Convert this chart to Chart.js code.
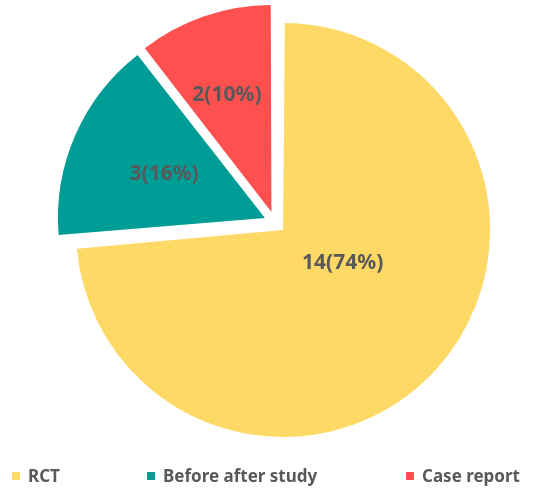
<!DOCTYPE html>
<html>
<head>
<meta charset="utf-8">
<script src="https://cdn.jsdelivr.net/npm/chart.js@4"></script>
<style>
  html, body { margin: 0; padding: 0; background: #fff; }
  #wrap { position: relative; width: 544px; height: 490px; }
  #chart { position: absolute; left: 0; top: 0; }
  .legend-item {
    position: absolute;
    top: 464px;
    display: flex;
    align-items: center;
    font-family: "Noto Sans", sans-serif;
    font-weight: bold;
    font-size: 17px;
    color: #595959;
    white-space: nowrap;
  }
  .legend-item span.box {
    display: inline-block;
    width: 8px;
    height: 8px;
    margin-right: 8px;
  }
</style>
</head>
<body>
<div id="wrap">
  <canvas id="chart" width="544" height="490"></canvas>
</div>
<script>
// Chart data
const categories = ["RCT", "Before after study", "Case report"];
const counts = [14, 3, 2];
const percents = [74, 16, 10];
const colors = ["#FFD966", "#009C96", "#FF5050"];

const PIE_RADIUS = 207;
const SHIFT = 11; // px each slice is pulled out
// label placement (fraction of radius, angle nudge in degrees)
const labelRadius = [0.38, 0.585, 0.656];
const labelNudge = [-12, 0, -1.8];
const legendLeft = [12, 147, 406];

/**
 * Chart.js grows the radius of an offset arc; undo that so all
 * slices keep the same radius
 */
const sameRadius = {
  id: "sameRadius",
  beforeDatasetsDraw(chart) {
    chart.getDatasetMeta(0).data.forEach((arc) => {
      const c = arc.endAngle - arc.startAngle;
      const fix = 1 - Math.sin(Math.min(Math.PI, c));
      arc.outerRadius = PIE_RADIUS - SHIFT * fix;
    });
  },
};

/**
 * Draw "n(p%)" inside each slice
 */
const sliceLabels = {
  id: "sliceLabels",
  afterDatasetsDraw(chart) {
    const ctx = chart.ctx;
    const arcs = chart.getDatasetMeta(0).data;
    ctx.save();
    ctx.font = "bold 21px 'Noto Sans', sans-serif";
    ctx.fillStyle = "#595959";
    ctx.textAlign = "center";
    ctx.textBaseline = "middle";
    arcs.forEach((arc, i) => {
      const mid =
        (arc.startAngle + arc.endAngle) / 2 + (labelNudge[i] * Math.PI) / 180;
      const r = PIE_RADIUS * labelRadius[i];
      ctx.fillText(
        `${counts[i]}(${percents[i]}%)`,
        arc.x + Math.cos(mid) * r,
        arc.y + Math.sin(mid) * r
      );
    });
    ctx.restore();
  },
};

const ctx = document.getElementById("chart").getContext("2d");

new Chart(ctx, {
  type: "pie",
  data: {
    labels: categories,
    datasets: [
      {
        data: counts,
        backgroundColor: colors,
        borderWidth: 0,
        // arc draws offset / 4 px of shift
        offset: SHIFT * 4,
      },
    ],
  },
  options: {
    responsive: false,
    animation: false,
    radius: PIE_RADIUS,
    layout: {
      padding: { top: 9, left: 6, right: 0, bottom: 54 },
    },
    plugins: {
      legend: { display: false },
      tooltip: { enabled: false },
    },
  },
  plugins: [sameRadius, sliceLabels],
});

// Legend below the pie
const wrap = document.getElementById("wrap");
categories.forEach((name, i) => {
  const item = document.createElement("div");
  item.className = "legend-item";
  item.style.left = legendLeft[i] + "px";
  const box = document.createElement("span");
  box.className = "box";
  box.style.background = colors[i];
  item.appendChild(box);
  item.appendChild(document.createTextNode(name));
  wrap.appendChild(item);
});
</script>
</body>
</html>
